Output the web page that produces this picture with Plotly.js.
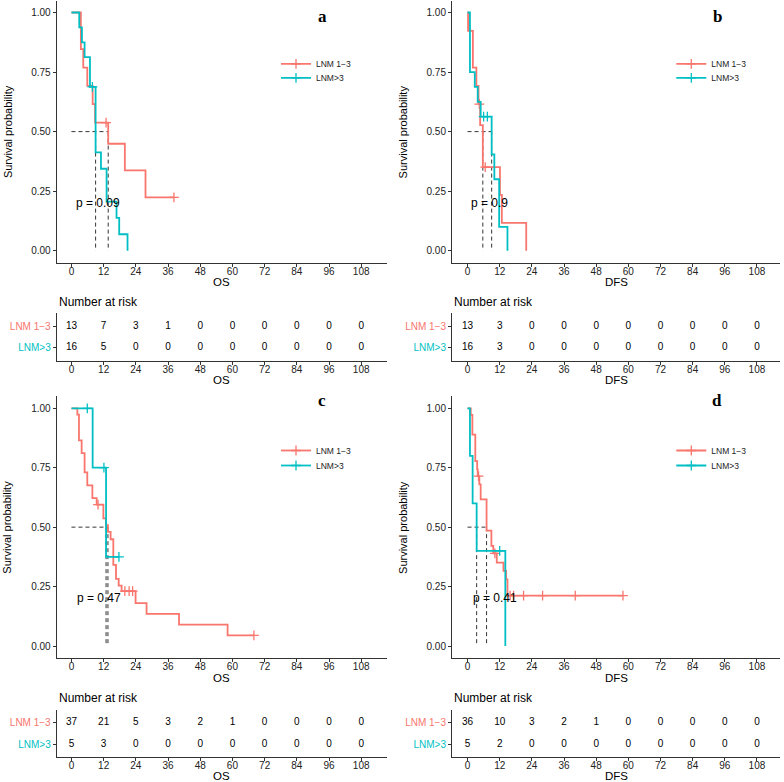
<!DOCTYPE html>
<html><head><meta charset="utf-8">
<script src="https://cdn.plot.ly/plotly-3.0.1.min.js"></script>
<style>html,body{margin:0;padding:0;background:#fff}#chart{width:784px;height:782px}</style>
</head><body><div id="chart"></div>
<script>
// ---------- data ----------
const groupNames = ['LNM 1−3', 'LNM>3'];
const timeBreaks = [0, 12, 24, 36, 48, 60, 72, 84, 96, 108];
const survBreaks = [0, 0.25, 0.5, 0.75, 1];
const survLabels = ['0.00', '0.25', '0.50', '0.75', '1.00'];
const panelLetters = ['a', 'b', 'c', 'd'];
const endpointLabels = ['OS', 'DFS', 'OS', 'DFS'];
const pValueTexts = ['p = 0.09', 'p = 0.9', 'p = 0.47', 'p = 0.41'];
const pValueX = [0.76, 0.44, 1.36, 1.16];
const pValueY = [0.2, 0.2, 0.2, 0.2];

// panel a (OS)
const aRedT = [0, 3.5, 4.4, 5.9, 7.9, 8.8, 13.7, 19.9, 27.6, 38.2];
const aRedS = [1, 0.846, 0.769, 0.692, 0.615, 0.538, 0.449, 0.337, 0.224, 0.224];
const aRedCensT = [12.9, 38.2];
const aRedCensS = [0.538, 0.224];
const aCyanT = [0, 2.9, 3.9, 4.9, 6.9, 9.0, 11.0, 13.1, 16.8, 17.8, 20.9];
const aCyanS = [1, 0.9375, 0.875, 0.8125, 0.6875, 0.4125, 0.344, 0.206, 0.1375, 0.069, 0];
const aCyanCensT = [7.8];
const aCyanCensS = [0.6875];
const aMedians = [9.0, 13.7];
const aRiskRed = [13, 7, 3, 1, 0, 0, 0, 0, 0, 0];
const aRiskCyan = [16, 5, 0, 0, 0, 0, 0, 0, 0, 0];

// panel b (DFS)
const bRedT = [0, 0.2, 2.0, 3.3, 4.1, 4.7, 5.7, 12.1, 12.8, 21.9];
const bRedS = [1, 0.923, 0.769, 0.692, 0.615, 0.527, 0.351, 0.234, 0.117, 0];
const bRedCensT = [4.4, 6.6];
const bRedCensS = [0.615, 0.351];
const bCyanT = [0, 0.9, 2.7, 3.8, 4.9, 9.0, 10.0, 11.8, 14.9];
const bCyanS = [1, 0.75, 0.6875, 0.625, 0.5625, 0.404, 0.30, 0.10, 0];
const bCyanCensT = [6.0, 7.4];
const bCyanCensS = [0.5625, 0.5625];
const bMedians = [5.7, 9.0];
const bRiskRed = [13, 3, 0, 0, 0, 0, 0, 0, 0, 0];
const bRiskCyan = [16, 3, 0, 0, 0, 0, 0, 0, 0, 0];

// panel c (OS)
const cRedT = [0, 2.2, 2.8, 3.8, 4.9, 5.9, 7.8, 9.4, 11.9, 12.9, 13.6, 14.6, 15.6, 16.6, 17.6, 18.7, 23.9, 28.0, 40.1, 58.2, 68.0];
const cRedS = [1, 0.973, 0.865, 0.811, 0.730, 0.676, 0.622, 0.595, 0.537, 0.508, 0.480, 0.449, 0.341, 0.282, 0.254, 0.231, 0.180, 0.135, 0.090, 0.045, 0.045];
const cRedCensT = [9.9, 19.9, 21.5, 22.8, 68.0];
const cRedCensS = [0.595, 0.231, 0.231, 0.231, 0.045];
const cCyanT = [0, 7.9, 12.9, 17.7];
const cCyanS = [1, 0.75, 0.375, 0.375];
const cCyanCensT = [5.9, 12.1, 17.7];
const cCyanCensS = [1, 0.75, 0.375];
const cMedians = [12.9, 13.6];
const cRiskRed = [37, 21, 5, 3, 2, 1, 0, 0, 0, 0];
const cRiskCyan = [5, 3, 0, 0, 0, 0, 0, 0, 0, 0];

// panel d (DFS)
const dRedT = [0, 1.2, 1.8, 2.9, 3.6, 3.8, 4.4, 4.9, 7.1, 8.9, 9.6, 10.9, 13.4, 14.4, 14.9, 58.0];
const dRedS = [1, 0.972, 0.889, 0.778, 0.743, 0.715, 0.680, 0.617, 0.485, 0.421, 0.390, 0.351, 0.316, 0.280, 0.212, 0.212];
const dRedCensT = [4.1, 10.2, 15.9, 17.2, 20.9, 28.0, 40.2, 58.0];
const dRedCensS = [0.715, 0.390, 0.212, 0.212, 0.212, 0.212, 0.212, 0.212];
const dCyanT = [0, 0.9, 1.9, 3.4, 14.1];
const dCyanS = [1, 0.8, 0.6, 0.4, 0];
const dCyanCensT = [12.0];
const dCyanCensS = [0.4];
const dMedians = [3.4, 7.1];
const dRiskRed = [36, 10, 3, 2, 1, 0, 0, 0, 0, 0];
const dRiskCyan = [5, 2, 0, 0, 0, 0, 0, 0, 0, 0];

// ---------- build ----------
const RED = '#F8766D', CYAN = '#00BFC4', AX = '#333333', TXT = '#1a1a1a';
const FONT = 'Liberation Sans, Arial, sans-serif';

const panels = [
  {red: [aRedT, aRedS, aRedCensT, aRedCensS], cyan: [aCyanT, aCyanS, aCyanCensT, aCyanCensS], med: aMedians, risk: [aRiskRed, aRiskCyan]},
  {red: [bRedT, bRedS, bRedCensT, bRedCensS], cyan: [bCyanT, bCyanS, bCyanCensT, bCyanCensS], med: bMedians, risk: [bRiskRed, bRiskCyan]},
  {red: [cRedT, cRedS, cRedCensT, cRedCensS], cyan: [cCyanT, cCyanS, cCyanCensT, cCyanCensS], med: cMedians, risk: [cRiskRed, cRiskCyan]},
  {red: [dRedT, dRedS, dRedCensT, dRedCensS], cyan: [dCyanT, dCyanS, dCyanCensT, dCyanCensS], med: dMedians, risk: [dRiskRed, dRiskCyan]}
];

const W = 784, H = 782;
const px2x = p => p / W;
const px2y = p => 1 - p / H;

const traces = [];
const layout = {
  width: W, height: H, margin: {l: 0, r: 0, t: 0, b: 0},
  paper_bgcolor: '#fff', plot_bgcolor: '#fff',
  font: {family: FONT, color: TXT},
  annotations: [], shapes: []
};

panels.forEach((p, i) => {
  const col = i % 2, row = Math.floor(i / 2);
  const mainN = 2 * i + 1, tabN = 2 * i + 2;
  const xm = mainN === 1 ? 'x' : 'x' + mainN, ym = mainN === 1 ? 'y' : 'y' + mainN;
  const xt = 'x' + tabN, yt = 'y' + tabN;

  const xDom = col === 0 ? [px2x(56.7), px2x(386.7)] : [px2x(452), px2x(780)];
  const xRange = col === 0 ? [-5.5, 117.5] : [-5.8, 116.6];
  const mainTop = row === 0 ? 0.6 : 396.4, mainBot = row === 0 ? 262.6 : 657.9;
  const tabTop = row === 0 ? 313.3 : 710, tabBot = row === 0 ? 360.7 : 757.3;
  const offX = col === 0 ? 0 : 395.3;
  const offY = row === 0 ? 0 : 396;
  const legRows = row === 0 ? [64.3, 78.3] : [451, 466];
  const letterY = row === 0 ? 16.5 : 400;

  // median lines
  const medMax = Math.max(...p.med);
  traces.push({x: [0, medMax], y: [0.5, 0.5], xaxis: xm, yaxis: ym, mode: 'lines',
    line: {color: '#000', width: 0.8, dash: '4px,3px'}, showlegend: false, hoverinfo: 'skip'});
  p.med.forEach(m => traces.push({x: [m, m], y: [0.5, 0], xaxis: xm, yaxis: ym, mode: 'lines',
    line: {color: '#000', width: 0.8, dash: '4px,3px'}, showlegend: false, hoverinfo: 'skip'}));

  // curves
  [[p.red, RED], [p.cyan, CYAN]].forEach(([d, c]) => {
    traces.push({x: d[0], y: d[1], xaxis: xm, yaxis: ym, mode: 'lines',
      line: {color: c, width: 1.8, shape: 'hv'}, showlegend: false, hoverinfo: 'skip'});
    traces.push({x: d[2], y: d[3], xaxis: xm, yaxis: ym, mode: 'markers',
      marker: {symbol: 'cross-thin', size: 7, line: {color: c, width: 1.3}}, showlegend: false, hoverinfo: 'skip'});
  });
  // legend entries: one legend box per group so the rows sit where the reference has them
  [[groupNames[0], RED], [groupNames[1], CYAN]].forEach(([n, c], k) => {
    const idx = 2 * i + k + 1;
    const legName = idx === 1 ? 'legend' : 'legend' + idx;
    traces.push({x: [null], y: [null], xaxis: xm, yaxis: ym, mode: 'lines+markers', name: n,
      line: {color: c, width: 1.8}, marker: {symbol: 'cross-thin', size: 7, line: {color: c, width: 1.3}},
      legend: legName, showlegend: true});
    layout[legName] = {
      x: px2x(276 + offX), y: px2y(legRows[k] - 15), xanchor: 'left', yanchor: 'top',
      bgcolor: 'rgba(0,0,0,0)', borderwidth: 0, font: {size: 8.5, family: FONT, color: '#222'},
      itemwidth: 30
    };
  });

  // p value
  layout.annotations.push({xref: xm, yref: ym, x: pValueX[i], y: pValueY[i], text: pValueTexts[i],
    showarrow: false, xanchor: 'left', yanchor: 'middle', font: {size: 12, family: FONT, color: '#000'}});

  // risk table text
  p.risk.forEach((r, k) => {
    traces.push({x: timeBreaks, y: timeBreaks.map(() => 2 - k), xaxis: xt, yaxis: yt, mode: 'text',
      text: r.map(String), textfont: {size: 10, family: FONT, color: '#000'}, showlegend: false, hoverinfo: 'skip'});
  });

  const axCommon = {showline: true, linecolor: AX, linewidth: 1, ticks: 'outside', ticklen: 3, tickwidth: 1,
    tickcolor: AX, showgrid: false, zeroline: false, tickfont: {size: 10, family: FONT, color: '#222'}, fixedrange: true};

  layout['xaxis' + mainN] = Object.assign({}, axCommon, {domain: xDom, range: xRange, anchor: ym,
    tickmode: 'array', tickvals: timeBreaks, ticktext: timeBreaks.map(String), ticklabelstandoff: -4});
  layout['yaxis' + mainN] = Object.assign({}, axCommon, {domain: [px2y(mainBot), px2y(mainTop)], range: [-0.05, 1.05],
    anchor: xm, tickmode: 'array', tickvals: survBreaks, ticktext: survLabels});
  layout['xaxis' + tabN] = Object.assign({}, axCommon, {domain: xDom, range: xRange, anchor: yt,
    tickmode: 'array', tickvals: timeBreaks, ticktext: timeBreaks.map(String), ticklabelstandoff: -4});
  layout['yaxis' + tabN] = Object.assign({}, axCommon, {domain: [px2y(tabBot), px2y(tabTop)], range: [0.4, 2.6],
    anchor: xt, tickmode: 'array', tickvals: [2, 1],
    ticktext: ['<span style="color:' + RED + '">' + groupNames[0] + '</span>',
               '<span style="color:' + CYAN + '">' + groupNames[1] + '</span>']});

  const cx = (xDom[0] + xDom[1]) / 2;
  // titles
  layout.annotations.push({xref: 'paper', yref: 'paper', x: px2x(7.5 + offX), y: px2y((mainTop + mainBot) / 2),
    text: 'Survival probability', textangle: -90, showarrow: false, xanchor: 'center', yanchor: 'middle',
    font: {size: 11, family: FONT, color: '#000'}});
  layout.annotations.push({xref: 'paper', yref: 'paper', x: cx, y: px2y(282.3 + offY), text: endpointLabels[i],
    showarrow: false, xanchor: 'center', yanchor: 'middle', font: {size: 11.5, family: FONT, color: '#000'}});
  layout.annotations.push({xref: 'paper', yref: 'paper', x: cx, y: px2y(380.2 + offY), text: endpointLabels[i],
    showarrow: false, xanchor: 'center', yanchor: 'middle', font: {size: 11.5, family: FONT, color: '#000'}});
  layout.annotations.push({xref: 'paper', yref: 'paper', x: xDom[0], y: px2y(302.3 + offY), text: 'Number at risk',
    showarrow: false, xanchor: 'left', yanchor: 'middle', font: {size: 12, family: FONT, color: '#000'}});
  // panel letter
  layout.annotations.push({xref: 'paper', yref: 'paper', x: px2x(322 + offX), y: px2y(letterY),
    text: '<b>' + panelLetters[i] + '</b>', showarrow: false, xanchor: 'center', yanchor: 'middle',
    font: {size: 17, family: 'Liberation Serif, Times New Roman, serif', color: '#000'}});
});

Plotly.newPlot('chart', traces, layout, {displayModeBar: false, staticPlot: true});
</script></body></html>
